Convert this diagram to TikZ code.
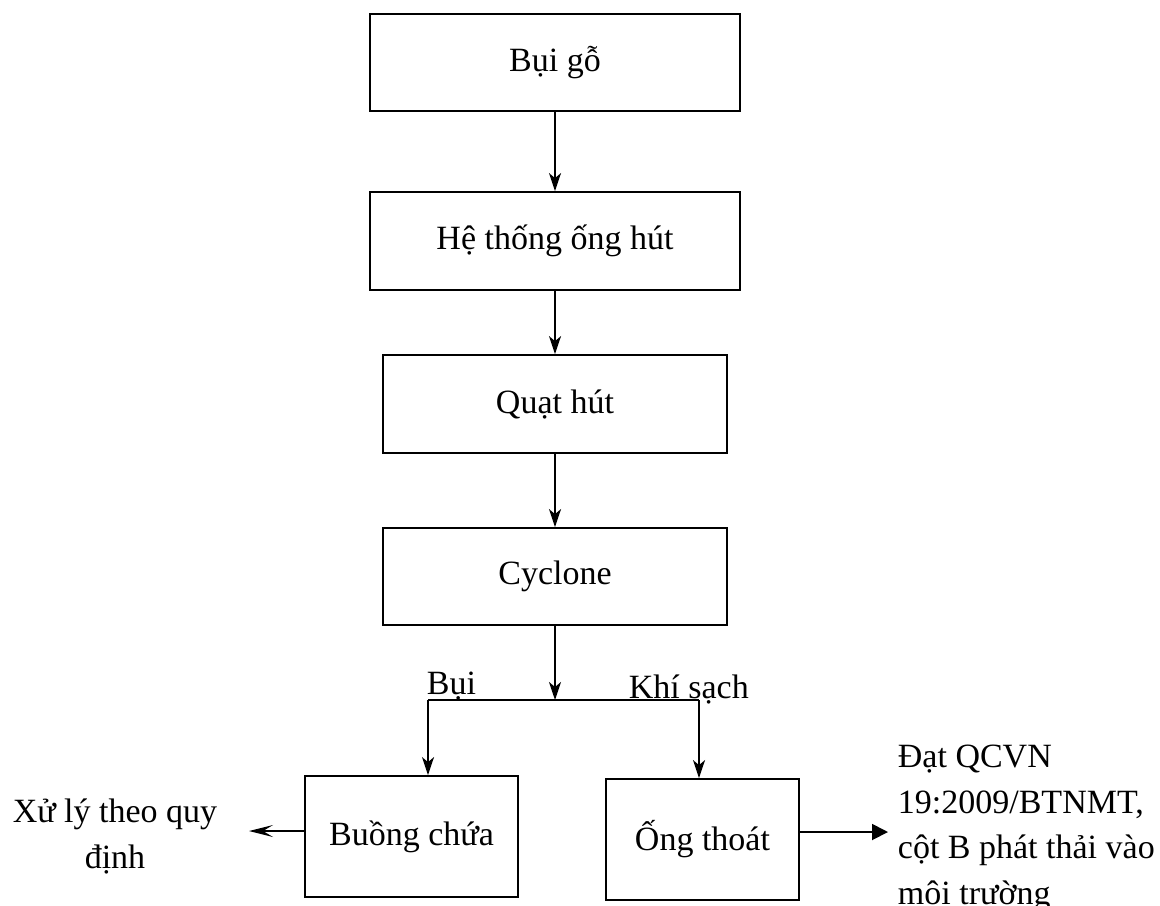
\documentclass[tikz,border=0pt]{standalone}
\usepackage{fontspec}
\setmainfont{Liberation Serif}
\usetikzlibrary{arrows.meta}
\begin{document}
\begin{tikzpicture}[x=0.5pt,y=-0.5pt,
  font=\fontsize{17}{22.8}\selectfont,
  line width=0.9pt,
  box/.style={draw, rectangle, inner sep=0pt, align=center},
  flow/.style={-{Stealth[length=9pt,width=6pt,inset=2.5pt]}},
  backflow/.style={-{Stealth[length=12pt,width=6pt,inset=5pt]}},
  outflow/.style={-{Triangle[length=8pt,width=8pt]}},
  lbl/.style={inner sep=0pt, anchor=base west}]
\useasboundingbox (0,0) rectangle (1160,905);

% main chain
\node[box, minimum width=185pt, minimum height=48.5pt] (bui) at (555,62.5) {Bụi gỗ};
\node[box, minimum width=185pt, minimum height=49pt] (ong) at (555,241) {Hệ thống ống hút};
\node[box, minimum width=172pt, minimum height=49pt] (quat) at (555,404) {Quạt hút};
\node[box, minimum width=172pt, minimum height=48.5pt] (cyc) at (555,576.5) {Cyclone};

% outputs of the cyclone
\node[box, minimum width=106.5pt, minimum height=60.5pt] (buong) at (411.5,836.5) {Buồng chứa};
\node[box, minimum width=96.5pt, minimum height=60.5pt] (thoat) at (702.5,839.5) {Ống thoát};

% split point
\coordinate (split) at (555,700);
\coordinate (sl) at (428,700);
\coordinate (sr) at (699,700);

\draw[flow] (bui) -- (ong);
\draw[flow] (ong) -- (quat);
\draw[flow] (quat) -- (cyc);
\draw[flow] (cyc) -- (split);
\draw (sl) -- (sr);
\draw[flow] (sl) -- (sl |- buong.north);
\draw[flow] (sr) -- (sr |- thoat.north);

\node[lbl] (lbui) at (426,694) {Bụi};
\node[lbl] (lkhi) at (628,698) {Khí sạch};

% final destinations
\coordinate (xtip) at (249,831);
\coordinate (dtip) at (888,832);
\draw[backflow] (buong.west |- xtip) -- (xtip);
\draw[outflow] (thoat.east |- dtip) -- (dtip);

\node[inner sep=0pt, align=center, anchor=base] (xuly) at (115,868) {Xử lý theo quy\\định};
\node[inner sep=0pt, align=left, anchor=north west] (dat) at (897,744) {Đạt QCVN\\19:2009/BTNMT,\\cột B phát thải vào\\môi trường};
\end{tikzpicture}
\end{document}
